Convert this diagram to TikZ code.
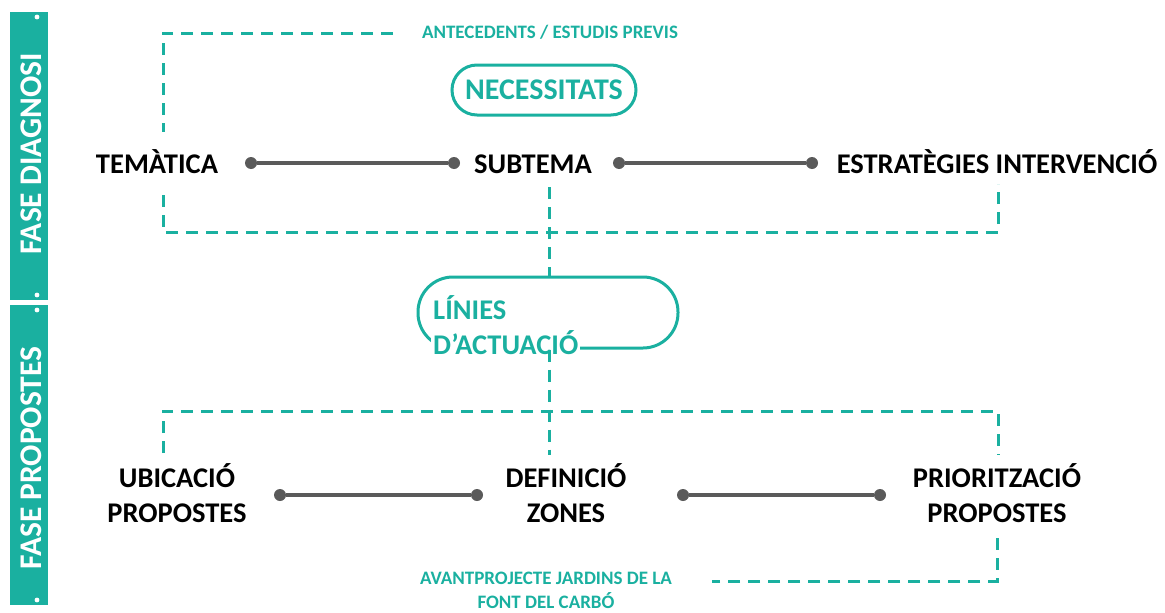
\documentclass[tikz,border=0pt]{standalone}
\usepackage{fontspec}
\setmainfont{Carlito}
\definecolor{fasecol}{HTML}{1AB0A0}
\definecolor{linkcol}{HTML}{5A5A5A}

\begin{document}
\begin{tikzpicture}[x=1pt,y=-1pt]

\tikzset{%
    item/.style={font=\fontsize{28.5}{35}\selectfont\bfseries,align=center,inner sep=0pt,anchor=base},
    label/.style={font=\fontsize{19}{24}\selectfont\bfseries,text=fasecol,align=center,inner sep=0pt,anchor=base},
    pill/.style={draw=fasecol,line width=3pt,text=fasecol,font=\fontsize{30}{30}\selectfont\bfseries},
    frame/.style={fasecol,line width=3pt,dash pattern=on 12pt off 8pt},
    link/.style={linkcol,line width=3.4pt},
    dot/.style={circle,fill=linkcol,inner sep=0pt,minimum size=12pt},
    fase/.style={white,font=\fontsize{31.5}{31.5}\selectfont\bfseries,rotate=90},
}

\useasboundingbox (0,0) rectangle (1165,613);

% phase bars
\fill [fasecol] (10,12) rectangle (48,300);
\fill [fasecol] (10,305) rectangle (48,605);
\foreach \y in {17,295,310,600}
    \fill [white] (37,\y) circle [radius=2.4];
\node [fase] (diagnosi) at (31,154) {FASE DIAGNOSI};
\node [fase] (propostes) at (31,458) {FASE PROPOSTES};

% diagnosi
\node [label] (antec) at (550,38) {ANTECEDENTS / ESTUDIS PREVIS};
\node [pill, rounded corners=25pt, minimum width=184pt, minimum height=50pt] (necess) at (544,90) {NECESSITATS};

\node [item] (tematica) at (157,173) {TEMÀTICA};
\node [item] (subtema) at (533,173) {SUBTEMA};
\node [item] (estrategies) at (997,173) {ESTRATÈGIES INTERVENCIÓ};

\node [dot] (d1) at (251,163) {};
\node [dot] (d2) at (454,163) {};
\node [dot] (d3) at (619,163) {};
\node [dot] (d4) at (812,163) {};
\draw [link] (d1) -- (d2);
\draw [link] (d3) -- (d4);

\draw [frame] (393,33) -| (163,132);
\draw [frame] (163,195) |- (998,232) -- (998,184);

% linies d'actuacio
\node [pill, rounded corners=35pt, minimum width=260pt, minimum height=71pt] (linies) at (548,312.5) {};
\node [item, anchor=base west, align=left, fill=white, inner sep=2pt, text=fasecol] (liniestxt) at (431,354) {LÍNIES\\D’ACTUACIÓ};

\draw [frame] (549,187) -- (linies.north -| 549,0);
\draw [frame] (linies.south -| 549,0) -- (549,455);

% propostes
\draw [frame] (163,453) |- (998,411) -- (998,455);
\draw [frame] (997,538) |- (712,581);

\node [item] (ubicacio) at (177,522) {UBICACIÓ\\PROPOSTES};
\node [item] (definicio) at (566,522) {DEFINICIÓ\\ZONES};
\node [item] (prioritzacio) at (997,522) {PRIORITZACIÓ\\PROPOSTES};

\node [dot] (d5) at (280,495) {};
\node [dot] (d6) at (477,495) {};
\node [dot] (d7) at (683,495) {};
\node [dot] (d8) at (880,495) {};
\draw [link] (d5) -- (d6);
\draw [link] (d7) -- (d8);

\node [label] (avant) at (546,608) {AVANTPROJECTE JARDINS DE LA\\FONT DEL CARBÓ};

\end{tikzpicture}
\end{document}
